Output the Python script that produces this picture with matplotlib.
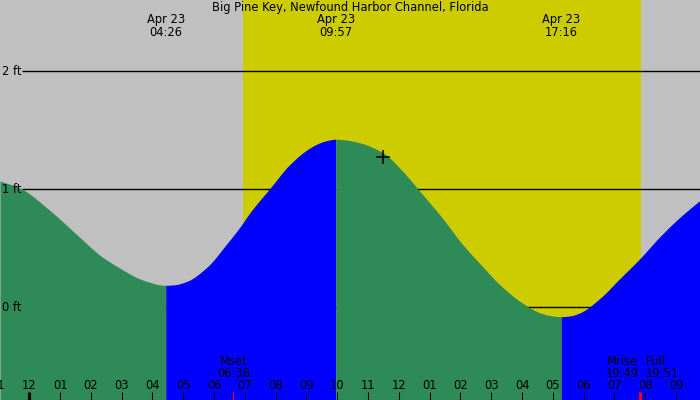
import matplotlib
matplotlib.use("Agg")
import matplotlib.pyplot as plt
import matplotlib.transforms as mtransforms
import numpy as np

# ---- data (hours from local midnight Apr 23, height in ft) ----
times = [-0.95, -0.30, 0.67, 1.65, 2.30, 2.95, 3.59, 4.00, 4.24, 4.43, 4.70, 5.12, 5.77,
         6.42, 6.84, 7.16, 7.82, 8.46, 9.11, 9.50, 9.76, 9.95, 10.20, 10.64, 11.48, 12.13,
         12.69, 13.43, 13.98, 14.31, 14.63, 15.28, 15.93, 16.58, 16.95, 17.27, 17.55,
         17.88, 18.53, 19.18, 19.83, 20.48, 21.13, 21.78]
heights = [1.07, 1.01, 0.82, 0.59, 0.44, 0.33, 0.24, 0.205, 0.19, 0.186, 0.19, 0.22, 0.34,
           0.54, 0.68, 0.80, 1.01, 1.21, 1.35, 1.40, 1.418, 1.424, 1.42, 1.40, 1.31, 1.15,
           0.98, 0.75, 0.56, 0.46, 0.37, 0.19, 0.05, -0.047, -0.072, -0.08, -0.074,
           -0.047, 0.076, 0.245, 0.414, 0.60, 0.764, 0.907]

extreme_times = [4.43, 9.95, 17.27]          # low, high, low
extreme_labels = ["04:26", "09:57", "17:16"]
extreme_date = "Apr 23"

sunrise, sunset = 6.94, 19.86
level_ticks = [0, 1, 2]
level_labels = ["0 ft", "1 ft", "2 ft"]

hour_ticks = list(range(-1, 22))
hour_labels = ["11", "12", "01", "02", "03", "04", "05", "06", "07", "08", "09", "10",
               "11", "12", "01", "02", "03", "04", "05", "06", "07", "08", "09"]

moon_events = [("Mset", "06:36", 6.60), ("Mrise", "19:49", 19.82), ("Full", "19:51", 19.85)]
now_time, now_height = 11.49, 1.276

title = "Big Pine Key, Newfound Harbor Channel, Florida"


def smooth_line(x, y, n=12):
    """Monotone cubic (Fritsch-Carlson) curve through the read points, for drawing."""
    x = np.asarray(x, float)
    y = np.asarray(y, float)
    dx = np.diff(x)
    d = np.diff(y) / dx
    m = np.zeros_like(y)
    m[0], m[-1] = d[0], d[-1]
    for i in range(1, len(y) - 1):
        if d[i - 1] * d[i] <= 0:
            m[i] = 0.0
        else:
            w1 = 2 * dx[i] + dx[i - 1]
            w2 = dx[i] + 2 * dx[i - 1]
            m[i] = (w1 + w2) / (w1 / d[i - 1] + w2 / d[i])
    xs, ys = [], []
    for i in range(len(dx)):
        s = np.linspace(0, 1, n, endpoint=(i == len(dx) - 1))
        h00 = 2 * s**3 - 3 * s**2 + 1
        h10 = s**3 - 2 * s**2 + s
        h01 = -2 * s**3 + 3 * s**2
        h11 = s**3 - s**2
        xs.append(x[i] + s * dx[i])
        ys.append(h00 * y[i] + h10 * dx[i] * m[i] + h01 * y[i + 1] + h11 * dx[i] * m[i + 1])
    return np.concatenate(xs), np.concatenate(ys)


# ---- figure ----
W, H = 700, 400
fig = plt.figure(figsize=(W / 100, H / 100), dpi=100)
ax = fig.add_axes([0, 0, 1, 1])
x0, x1 = -0.951, 21.776
y0, y1 = -0.786, 2.604
ax.set_xlim(x0, x1)
ax.set_ylim(y0, y1)
ax.axis("off")
fig.patch.set_facecolor("#C0C0C0")
ax.add_patch(plt.Rectangle((x0, y0), x1 - x0, y1 - y0, color="#C0C0C0", zorder=0))

# daylight
ax.axvspan(sunrise, sunset, color="#CCCC00", zorder=1, lw=0)

# level lines
for lv in level_ticks:
    ax.hlines(lv, -0.237, x1, color="black", lw=1.0, zorder=2)

# tide fill, split by rising/falling
t, h = smooth_line(times, heights)
bounds = [t[0]] + extreme_times + [t[-1]]
colors = ["#2E8B57", "#0000FF", "#2E8B57", "#0000FF"]
for i in range(len(bounds) - 1):
    m = (t >= bounds[i] - 1e-9) & (t <= bounds[i + 1] + 1e-9)
    ax.fill_between(t[m], y0, h[m], color=colors[i], lw=0, zorder=3)

# current marker
ax.plot([now_time], [now_height], marker="+", color="black", ms=10, mew=1.1, zorder=6)


def ypx(py):
    return 1 - py / H


tr = mtransforms.blended_transform_factory(ax.transData, ax.transAxes)
font = dict(family="DejaVu Sans", fontsize=8.3, color="black")

# title
ax.text(0.5, ypx(8), title, transform=ax.transAxes, ha="center", va="center", zorder=7, **font)

# extreme labels
for et, el in zip(extreme_times, extreme_labels):
    ax.text(et, ypx(19), extreme_date, transform=tr, ha="center", va="center", zorder=7, **font)
    ax.text(et, ypx(32), el, transform=tr, ha="center", va="center", zorder=7, **font)

# level labels
for lv, ll in zip(level_ticks, level_labels):
    ax.text(-0.89, lv, ll, ha="left", va="center", zorder=7, **font)

# hour ticks and labels
for ht, hl in zip(hour_ticks, hour_labels):
    ax.text(ht, ypx(385.5), hl, transform=tr, ha="center", va="center", zorder=7, **font)
    lw = 3 if ht == 0 else 1
    ax.plot([ht, ht], [ypx(392), 0], transform=tr, color="black", lw=lw * 0.75,
            zorder=7, solid_capstyle="butt")

# moon events
for name, tm, mt in moon_events:
    if name == "Mset":
        ha, xx = "center", mt + 0.04
    elif name == "Mrise":
        ha, xx = "right", mt - 0.05
    else:
        ha, xx = "left", mt + 0.18
    ax.text(xx, ypx(361.7), name, transform=tr, ha=ha, va="center", zorder=7, **font)
    ax.text(xx, ypx(373.3), tm, transform=tr, ha=ha, va="center", zorder=7, **font)
ax.plot([6.60, 6.60], [ypx(392), 0], transform=tr, color="red", lw=0.75, zorder=7,
        solid_capstyle="butt")
ax.plot([19.83, 19.83], [ypx(392), 0], transform=tr, color="red", lw=2.2, zorder=7,
        solid_capstyle="butt")

fig.savefig("out.png", dpi=100, facecolor=fig.get_facecolor())
